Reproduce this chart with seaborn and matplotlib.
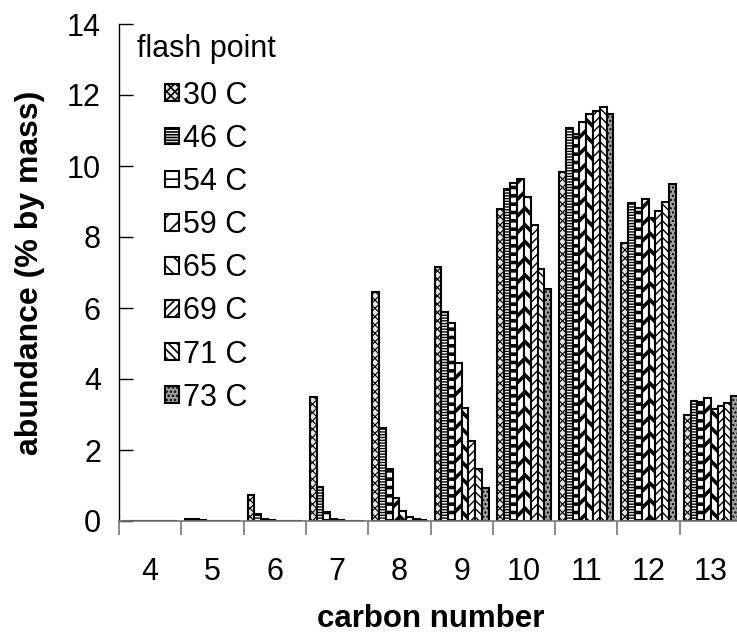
import pandas as pd
import matplotlib.pyplot as plt
import matplotlib.patches as mpatches
import seaborn as sns
import numpy as np

# carbon numbers on the x axis and the flash point series
carbon = ['4', '5', '6', '7', '8', '9', '10', '11', '12', '13']
flash_points = ['30 C', '46 C', '54 C', '59 C', '65 C', '69 C', '71 C', '73 C']

# abundance (% by mass), one list per flash point
fp30 = [0, 0.06, 0.72, 3.48, 6.45, 7.16, 8.78, 9.84, 7.82, 2.98]
fp46 = [0, 0.05, 0.19, 0.97, 2.61, 5.90, 9.34, 11.06, 8.95, 3.38]
fp54 = [0, 0.02, 0.07, 0.24, 1.46, 5.59, 9.53, 10.90, 8.81, 3.36]
fp59 = [0, 0.01, 0.02, 0.07, 0.64, 4.44, 9.62, 11.25, 9.06, 3.46]
fp65 = [0, 0.00, 0.01, 0.03, 0.28, 3.17, 9.14, 11.46, 8.54, 3.15]
fp69 = [0, 0.00, 0.00, 0.01, 0.12, 2.26, 8.33, 11.55, 8.74, 3.24]
fp71 = [0, 0.00, 0.00, 0.01, 0.06, 1.46, 7.11, 11.65, 8.99, 3.33]
fp73 = [0, 0.00, 0.00, 0.00, 0.02, 0.94, 6.54, 11.46, 9.49, 3.52]
series = [fp30, fp46, fp54, fp59, fp65, fp69, fp71, fp73]

# fill pattern of each series (face colour, hatch, hatch line width)
styles = [('#e4e4e4', 'xxxx', 0.8), ('white', '------', 1.0), ('white', '--', 2.6),
          ('white', '//', 2.6), ('white', '\\\\', 2.6), ('white', '////', 1.0),
          ('white', '\\\\\\\\', 1.0), ('#a0a0a0', '....', 1.0)]

df = pd.DataFrame({
    'carbon': np.tile(carbon, len(flash_points)),
    'flash': np.repeat(flash_points, len(carbon)),
    'abundance': np.concatenate(series),
})

# --- Visualization ---
sns.set_style('white')
plt.rcParams['font.family'] = ['Liberation Sans', 'DejaVu Sans']
plt.rcParams['text.color'] = 'black'
plt.rcParams['axes.labelcolor'] = 'black'
plt.rcParams['xtick.color'] = 'black'
plt.rcParams['ytick.color'] = 'black'
plt.rcParams['hatch.linewidth'] = 1.2


def style_patch(p, fc, hatch, hlw):
    p.set_facecolor(fc)
    p.set_hatch(hatch)
    if hasattr(p, 'set_hatch_linewidth'):
        p.set_hatch_linewidth(hlw)


fig = plt.figure(figsize=(7.37, 6.34), dpi=100)
ax = fig.add_axes([119 / 737, 1 - 521 / 634, 623 / 737, 497 / 634])

sns.barplot(data=df, x='carbon', y='abundance', hue='flash', order=carbon,
            hue_order=flash_points, palette=['white'] * 8, edgecolor='black',
            linewidth=1.5, width=0.87, legend=False, ax=ax)

handles = []
for cont, (fc, hatch, hlw), lab in zip(ax.containers, styles, flash_points):
    for bar in cont:
        style_patch(bar, fc, hatch, hlw)
    h = mpatches.Patch(edgecolor='black', linewidth=1.5, label=lab)
    style_patch(h, fc, hatch, hlw)
    handles.append(h)

ax.set_ylim(0, 14)
ax.set_xlim(-0.5, 9.5)
ax.set_yticks(range(0, 15, 2))
ax.set_xticks(np.arange(-0.5, 10, 1), minor=True)

for side in ['top', 'right']:
    ax.spines[side].set_visible(False)
ax.spines['left'].set_color('black')
ax.spines['left'].set_linewidth(1)
ax.spines['bottom'].set_color('#777777')
ax.spines['bottom'].set_linewidth(1.2)

ax.tick_params(axis='y', direction='in', length=10, width=1, color='black',
               labelsize=22, pad=13, left=True)
ax.tick_params(axis='x', which='major', length=0, labelsize=22, pad=26)
ax.tick_params(axis='x', which='minor', direction='out', length=10, width=1.2,
               color='#777777', bottom=True)

ax.set_xlabel('carbon number', fontsize=22.5, fontweight='bold')
ax.set_ylabel('abundance (% by mass)', fontsize=23, fontweight='bold')
ax.xaxis.set_label_coords(0.5, -0.166)
ax.yaxis.set_label_coords(-0.118, 0.5)

leg = ax.legend(handles=handles, title='flash point', loc='upper left',
                bbox_to_anchor=(137 / 737, 1 - 34 / 634), bbox_transform=fig.transFigure,
                frameon=False, fontsize=22, title_fontsize=22, borderpad=0,
                borderaxespad=0, labelspacing=0.43, handlelength=0.46,
                handleheight=0.46, handletextpad=0.15)
# a little more room between the title and the first entry
leg._legend_box.sep = 12

plt.savefig('out.png', dpi=100)
